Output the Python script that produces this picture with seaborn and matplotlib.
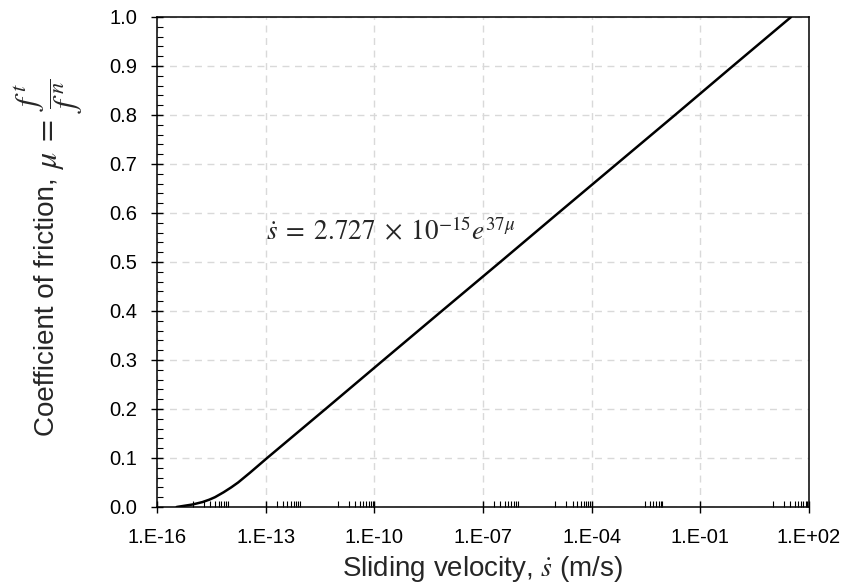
import numpy as np
import pandas as pd
import seaborn as sns
import matplotlib.pyplot as plt
from matplotlib.ticker import FixedLocator, FixedFormatter, MultipleLocator

# Dados
mu = [0.0, 0.005, 0.01, 0.015, 0.02, 0.03, 0.04, 0.05, 0.07, 0.1,
      0.2, 0.3, 0.4, 0.5, 0.6, 0.7, 0.8, 0.9, 1.0]
velocity = [3.5e-16, 9.5e-16, 1.8e-15, 2.8e-15, 4.0e-15, 6.9e-15, 1.12e-14, 1.74e-14, 3.7e-14, 1.1e-13,
            4.5e-12, 1.8e-10, 7.3e-9, 3.0e-7, 1.2e-5, 4.9e-4, 2.0e-2, 0.79, 32.0]

x_tick_values = [1e-16, 1e-13, 1e-10, 1e-7, 1e-4, 1e-1, 1e2]
x_tick_labels = ["1.E-16", "1.E-13", "1.E-10", "1.E-07", "1.E-04", "1.E-01", "1.E+02"]
# grupos de minor ticks visíveis no eixo x (década, multiplicadores)
minor_groups = [(-15, range(1, 10)), (-13, range(2, 10)), (-11, range(1, 10)),
                (-7, range(2, 10)), (-5, range(1, 10)), (-3, range(3, 10)), (1, range(1, 10))]
x_minor_values = [k * 10.0 ** e for e, ks in minor_groups for k in ks]

df = pd.DataFrame({'velocity': velocity, 'mu': mu})

sns.set_theme(style='white')
plt.rcParams['font.family'] = ['Liberation Sans', 'DejaVu Sans']
plt.rcParams['mathtext.fontset'] = 'stix'

fig = plt.figure(figsize=(8.49, 5.88), dpi=100)
ax = fig.add_axes([0.1849, 0.1378, 0.7680, 0.8333])

sns.lineplot(data=df, x='velocity', y='mu', color='black', linewidth=1.8,
             estimator=None, sort=False, ax=ax)

ax.set_xscale('log')
ax.set_xlim(1e-16, 1e2)
ax.set_ylim(0, 1.0)

ax.xaxis.set_major_locator(FixedLocator(x_tick_values))
ax.xaxis.set_major_formatter(FixedFormatter(x_tick_labels))
ax.xaxis.set_minor_locator(FixedLocator(x_minor_values))
ax.xaxis.set_minor_formatter(FixedFormatter([]))
ax.yaxis.set_major_locator(MultipleLocator(0.1))
ax.yaxis.set_minor_locator(MultipleLocator(0.02))
ax.yaxis.set_major_formatter(plt.FuncFormatter(lambda v, p: f"{v:.1f}"))

ax.tick_params(which='major', direction='inout', length=8, width=1, colors='black',
               labelsize=14.5, bottom=True, left=True)
ax.tick_params(axis='x', which='major', pad=11)
ax.tick_params(axis='y', which='major', pad=10)
ax.tick_params(which='minor', direction='in', length=4, width=0.8, colors='black',
               bottom=True, left=True)

ax.grid(which='major', color='#d9d9d9', linestyle=(0, (5, 4)), linewidth=1)
for s in ax.spines.values():
    s.set_color('black')
    s.set_linewidth(1.1)

ax.set_xlabel(r'Sliding velocity, $\dot{s}$ (m/s)', fontsize=20, labelpad=5)
ax.set_ylabel('')

# rótulo do eixo y em duas partes (texto + fração grande)
fig.text(54 / 849, 1 - 436 / 588, 'Coefficient of friction,', rotation=90,
         rotation_mode='anchor', fontsize=20, ha='left', va='baseline')
fig.text(58 / 849, 1 - 170 / 588, r'$\mu\;=\;\dfrac{f^{\,t}}{f^{\,n}}$', rotation=90,
         rotation_mode='anchor', fontsize=23, ha='left', va='baseline')

ax.text(1e-13, 0.545, r'$\dot{s}\;=\;2.727\;\times\;10^{-15}e^{37\mu}$', fontsize=19.5,
        ha='left', va='baseline')

fig.savefig('out.png', dpi=100)
